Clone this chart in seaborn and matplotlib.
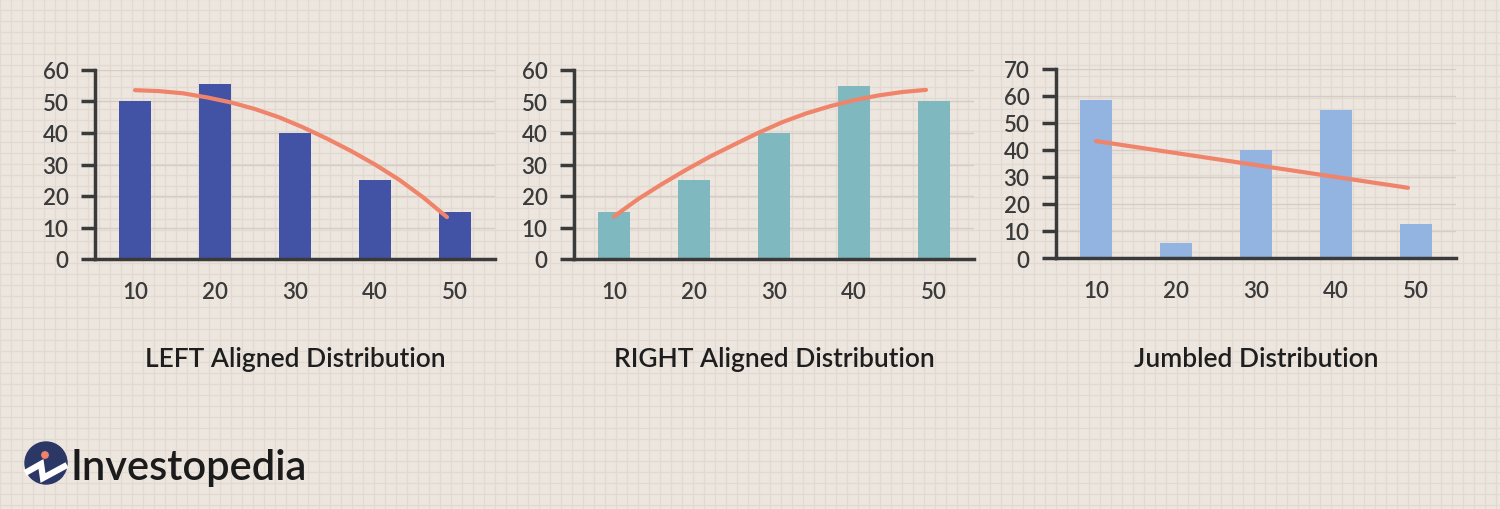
import numpy as np
import pandas as pd
import matplotlib
matplotlib.use("Agg")
import matplotlib.pyplot as plt
import seaborn as sns
from matplotlib.patches import Circle

# datos
categorias = ["10", "20", "30", "40", "50"]
left_vals = [50, 55.5, 40, 25, 15]
right_vals = [15, 25, 40, 55, 50]
jumbled_vals = [58.5, 5.5, 40, 55, 12.7]

# curvas de tendencia (posicion en unidades de categoria, valor)
left_curve_x = [0, 0.3, 0.6, 0.9, 1.2, 1.5, 1.8, 2.1, 2.4, 2.7, 3.0, 3.3, 3.6, 3.9]
left_curve_y = [53.6, 53.3, 52.6, 51.3, 49.7, 47.6, 45.0, 41.8, 38.2, 34.3, 30.0, 25.2, 19.6, 13.3]
right_curve_x = [0, 0.3, 0.6, 0.9, 1.2, 1.5, 1.8, 2.1, 2.4, 2.7, 3.0, 3.3, 3.6, 3.9]
right_curve_y = [13.5, 19.0, 23.8, 28.3, 32.5, 36.3, 40.0, 43.4, 46.2, 48.5, 50.4, 51.9, 53.0, 53.7]
jumbled_curve_x = [0, 3.9]
jumbled_curve_y = [43.3, 26.0]

titulos = ["LEFT Aligned Distribution", "RIGHT Aligned Distribution", "Jumbled Distribution"]
colores = ["#4253a5", "#7fb8bf", "#93b3e0"]
y_tops = [60, 60, 70]

BG = "#ece6df"
LINEA = "#f0846a"
EJE = "#3a3a3a"

sns.set_theme(style="white")
plt.rcParams["font.family"] = ["Lato", "DejaVu Sans"]

fig = plt.figure(figsize=(15, 5.1), dpi=100)
fig.patch.set_facecolor(BG)

# fondo cuadriculado + logo
bg = fig.add_axes([0, 0, 1, 1], zorder=-1)
bg.set_xlim(0, 1500)
bg.set_ylim(510, 0)
bg.set_facecolor(BG)
for x in np.arange(0, 1501, 11):
    bg.axvline(x, color="#e2dad2", lw=0.9, zorder=0)
for y in np.arange(0, 511, 11):
    bg.axhline(y, color="#e2dad2", lw=0.9, zorder=0)
bg.axis("off")
bg.add_patch(Circle((46, 464), 21, color="#2b3866", zorder=3))
bg.plot([25, 41, 43, 67], [474, 465, 479, 466], color="white", lw=4.5,
        solid_capstyle="butt", solid_joinstyle="miter", zorder=4)
bg.add_patch(Circle((45, 456), 3.2, color="#f0846a", zorder=5))
bg.text(70, 468, "Investopedia", fontsize=30, color="#1b1b1b", va="center", ha="left",
        fontweight="semibold", zorder=5)

paneles = [
    (95, 71, 260, left_vals, left_curve_x, left_curve_y),
    (574, 71, 260, right_vals, right_curve_x, right_curve_y),
    (1056, 70, 259, jumbled_vals, jumbled_curve_x, jumbled_curve_y),
]

for i, (x0, ytop, ybot, vals, cx, cy) in enumerate(paneles):
    ax = fig.add_axes([x0 / 1500, (510 - ybot) / 510, 400 / 1500, (ybot - ytop) / 510])
    ax.set_facecolor("none")
    df = pd.DataFrame({"cat": categorias, "val": vals})
    sns.barplot(data=df, x="cat", y="val", color=colores[i], width=0.4,
                saturation=1, ax=ax, zorder=2, linewidth=0, edgecolor="none")
    sns.lineplot(x=cx, y=cy, ax=ax, color=LINEA, lw=3, zorder=3)
    ax.set_xlim(-0.5, 4.5)
    ax.set_ylim(0, y_tops[i])
    ax.set_yticks(range(0, y_tops[i] + 1, 10))
    for y in range(10, y_tops[i] + 1, 10):
        ax.axhline(y, color="#d5cdc5", lw=1, zorder=1)
    ax.set_xticks(range(5))
    ax.set_xticklabels(categorias)
    ax.set_xticks(np.arange(-0.5, 5, 1), minor=True)
    ax.tick_params(axis="x", which="major", length=0, pad=16, labelsize=16, labelcolor=EJE)
    ax.tick_params(axis="x", which="minor", length=10, width=2.5, color=EJE, direction="out")
    ax.tick_params(axis="y", length=10, width=2.5, color=EJE, pad=9, labelsize=16,
                   labelcolor=EJE, direction="out", left=True)
    for lab in ax.get_xticklabels() + ax.get_yticklabels():
        lab.set_fontweight("semibold")
    for s in ["top", "right"]:
        ax.spines[s].set_visible(False)
    for s in ["left", "bottom"]:
        ax.spines[s].set_color(EJE)
        ax.spines[s].set_linewidth(2.5)
    ax.set_xlabel("")
    ax.set_ylabel("")
    ax.grid(False)
    fig.text((x0 + 200) / 1500, (510 - 360) / 510, titulos[i], fontsize=19,
             color="#1e1e1e", ha="center", va="center", fontweight="semibold")

fig.savefig("out.png", dpi=100, facecolor=BG)
